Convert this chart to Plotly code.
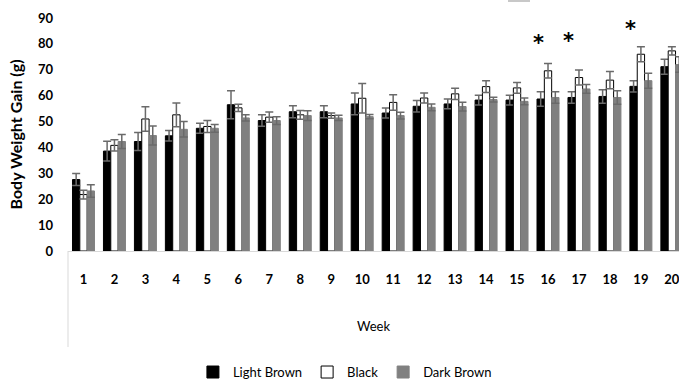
import plotly.graph_objects as go

weeks = [str(i) for i in range(1, 21)]

light_brown = [27.6, 38.6, 42.3, 44.5, 47.4, 56.5, 50.4, 53.8, 53.8, 56.8,
               53.3, 55.9, 56.8, 58.3, 58.3, 58.7, 59.3, 59.7, 63.6, 71.2]
light_brown_err = [2.3, 3.8, 3.5, 2.0, 1.9, 5.4, 2.2, 2.3, 2.3, 4.2,
                   1.9, 2.2, 1.9, 1.9, 1.9, 2.8, 2.2, 2.6, 2.2, 2.9]

black = [21.8, 40.8, 51.0, 52.6, 48.1, 55.3, 51.7, 52.6, 52.3, 59.0,
         57.4, 59.1, 60.7, 63.5, 63.0, 69.6, 67.0, 66.0, 76.0, 77.3]
black_err = [1.7, 2.2, 4.7, 4.6, 2.3, 1.4, 2.0, 1.7, 1.0, 5.7,
             3.0, 1.9, 2.2, 2.3, 2.1, 2.8, 2.9, 3.3, 2.9, 1.6]

dark_brown = [23.2, 42.3, 44.6, 47.0, 47.4, 51.4, 50.4, 52.3, 51.4, 51.9,
              52.3, 55.5, 55.8, 58.5, 57.8, 59.3, 62.6, 59.3, 65.8, 72.0]
dark_brown_err = [2.4, 2.7, 3.7, 3.0, 1.5, 1.2, 1.5, 1.9, 1.0, 0.8,
                  1.3, 1.3, 1.7, 0.9, 1.3, 2.2, 1.7, 2.6, 2.9, 3.0]

star_weeks = ["16", "17", "19"]
star_values = [80.5, 81.2, 85.6]

FONT = "Lato"
ERR = "#6a6a6a"

fig = go.Figure()
series = [
    ("Light Brown", light_brown, light_brown_err, "#000000", "#000000"),
    ("Black", black, black_err, "#ffffff", "#000000"),
    ("Dark Brown", dark_brown, dark_brown_err, "#808080", "#808080"),
]
for name, vals, errs, fill, line in series:
    fig.add_trace(go.Bar(
        x=weeks, y=vals, name=name,
        marker=dict(color=fill, line=dict(color=line, width=1)),
        error_y=dict(type="data", array=errs, visible=True,
                     color=ERR, thickness=1.5, width=4),
    ))

for wk, v in zip(star_weeks, star_values):
    fig.add_annotation(x=weeks.index(wk), y=v, text="<b>*</b>", showarrow=False,
                       xshift=-10,
                       font=dict(family="DejaVu Sans", size=21, color="#000000"))

plot_h = 382 - 18 - 131
fig.add_shape(type="line", xref="paper", yref="paper",
              x0=0, x1=0, y0=0, y1=-(347 - 251) / plot_h,
              line=dict(color="#d9d9d9", width=1))
fig.add_shape(type="line", xref="paper", yref="paper",
              x0=(508 - 68) / 611, x1=(530 - 68) / 611,
              y0=1 + 17 / plot_h, y1=1 + 17 / plot_h,
              line=dict(color="#c8c8c8", width=2))

fig.update_layout(
    width=679, height=382,
    margin=dict(l=68, r=0, t=18, b=131, autoexpand=False),
    paper_bgcolor="white", plot_bgcolor="white",
    barmode="group", bargap=0.29, bargroupgap=0,
    font=dict(family=FONT, color="#000"),
    showlegend=True,
    legend=dict(orientation="h", xref="container", yref="container",
                x=0.508, xanchor="center", y=0.026, yanchor="middle",
                font=dict(family=FONT, size=13), itemwidth=30,
                traceorder="normal"),
    xaxis=dict(type="category", range=[-0.5, 19.23],
               showline=True, linecolor="#d9d9d9", linewidth=1,
               ticks="", showgrid=False, ticklabelstandoff=16,
               tickfont=dict(family=FONT, size=13, weight="bold"),
               title=dict(text="Week", standoff=36,
                          font=dict(family=FONT, size=13))),
    yaxis=dict(range=[0, 90], dtick=10, showgrid=False, showline=False,
               zeroline=False, ticks="", ticklabelstandoff=14,
               tickfont=dict(family=FONT, size=13, weight="bold"),
               title=dict(text="Body Weight Gain (g)", standoff=11,
                          font=dict(family=FONT, size=16, weight="bold"))),
)

fig.write_html("out.html")
